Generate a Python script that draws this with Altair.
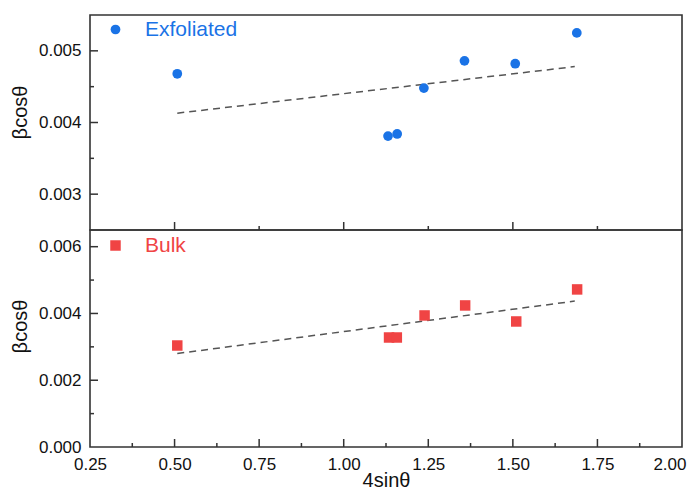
import altair as alt
import pandas as pd

# ---------------- data ----------------
x_exf = [0.508, 1.131, 1.158, 1.237, 1.357, 1.507, 1.689]
y_exf = [0.00468, 0.00381, 0.00384, 0.00448, 0.00486, 0.00482, 0.00525]
x_bulk = [0.508, 1.134, 1.157, 1.239, 1.359, 1.510, 1.690]
y_bulk = [0.00304, 0.00328, 0.00328, 0.00394, 0.00424, 0.00376, 0.00472]
fit_x_exf = [0.508, 1.683]
fit_y_exf = [0.00413, 0.00478]
fit_x_bulk = [0.508, 1.683]
fit_y_bulk = [0.00280, 0.00437]

x_labels = [0.25, 0.50, 0.75, 1.00, 1.25, 1.50, 1.75, 2.00]
x_minor = [0.375, 0.625, 0.875, 1.125, 1.375, 1.625, 1.875]
top_x_long = [0.5, 1.0, 1.5]
top_x_short = [0.75, 1.25, 1.75]
top_y_labels = [0.003, 0.004, 0.005]
top_y_minor = [0.0035, 0.0045]
bot_y_labels = [0.000, 0.002, 0.004, 0.006]
bot_y_minor = [0.001, 0.003, 0.005]

BLUE = "#1a73e6"
RED = "#f04444"
FONT = "Liberation Sans"
TXT = "#111111"
AX = "#333333"
W, H1, H2 = 592, 215, 217

xscale = alt.Scale(domain=[0.25, 2.0], nice=False, zero=False)


def xenc(show):
    if show:
        ax = alt.Axis(values=x_labels, format=".2f", title="4sinθ", ticks=False,
                      domain=False, grid=False, labelFontSize=17, labelPadding=9,
                      labelFlush=False, labelOverlap=False,
                      labelAlign={"condition": {"test": "datum.value >= 1.99", "value": "right"},
                                  "value": "center"},
                      labelOffset={"condition": {"test": "datum.value >= 1.99", "value": 4},
                                   "value": 0},
                      titleFontSize=20, titleY=23, labelFont=FONT, titleFont=FONT,
                      labelColor=TXT, titleColor=TXT, titleFontWeight="normal")
    else:
        ax = None
    return alt.X("x:Q", scale=xscale, axis=ax)


def yenc(domain, values, title_y):
    ax = alt.Axis(values=values, format=".3f", title="βcosθ", ticks=False, domain=False,
                  grid=False, labelFontSize=17, labelPadding=9, titleFontSize=20,
                  labelFlush=False, labelOverlap=False,
                  labelFont=FONT, titleFont=FONT, labelColor=TXT, titleColor=TXT,
                  titleFontWeight="normal", titleX=-60, titleY=title_y)
    return alt.Y("y:Q", scale=alt.Scale(domain=domain, nice=False, zero=False), axis=ax)


def panel(xs, ys, fx, fy, name, color, mark, size, domain, yvals, ylong, yshort,
          xlong, xshort, height, show_x, title_y, legend_y):
    X = xenc(show_x)
    Y = yenc(domain, yvals, title_y)
    pts = pd.DataFrame({"x": xs, "y": ys, "series": [name] * len(xs)})
    fit = pd.DataFrame({"x": fx, "y": fy})
    if mark == "circle":
        base = alt.Chart(pts).mark_circle(size=size, opacity=1)
        sym = "circle"
    else:
        base = alt.Chart(pts).mark_square(size=size, opacity=1)
        sym = "square"
    points = base.encode(
        x=X, y=Y,
        color=alt.Color("series:N", scale=alt.Scale(domain=[name], range=[color]),
                        legend=alt.Legend(orient="none", legendX=15, legendY=legend_y,
                                          title=None, labelFontSize=21, labelFont=FONT,
                                          labelColor=color, labelOffset=19,
                                          symbolSize=size, symbolStrokeWidth=0,
                                          symbolType=sym, padding=0)),
    )
    line = alt.Chart(fit).mark_line(color="#555555", strokeDash=[7, 5],
                                    strokeWidth=1.5).encode(x=X, y=Y)
    layers = [line, points]
    # inward ticks on the bottom edge
    for vals, ln in ((xlong, 8), (xshort, 4)):
        d = pd.DataFrame({"x": vals})
        layers.append(alt.Chart(d).mark_rule(color=AX, strokeWidth=1.5).encode(
            x=X, y=alt.value(height), y2=alt.value(height - ln)))
    # inward ticks on the left edge
    for vals, ln in ((ylong, 8), (yshort, 4)):
        d = pd.DataFrame({"y": vals})
        layers.append(alt.Chart(d).mark_rule(color=AX, strokeWidth=1.5).encode(
            y=Y, x=alt.value(0), x2=alt.value(ln)))
    return alt.layer(*layers).properties(width=W, height=height)


top = panel(x_exf, y_exf, fit_x_exf, fit_y_exf, "Exfoliated", BLUE, "circle", 95,
            [0.0025, 0.0055], top_y_labels, top_y_labels, top_y_minor,
            top_x_long, top_x_short, H1, False, 97, 4)
bottom = panel(x_bulk, y_bulk, fit_x_bulk, fit_y_bulk, "Bulk", RED, "square", 110,
               [0.0, 0.0065], bot_y_labels, [0.002, 0.004, 0.006], bot_y_minor,
               [0.5, 0.75, 1.0, 1.25, 1.5, 1.75], x_minor, H2, True, 96, 5)

chart = alt.vconcat(top, bottom, spacing=0, bounds="flush").resolve_scale(
    x="independent", y="independent", color="independent"
).resolve_legend(color="independent").properties(
    padding={"left": 1, "top": 6, "right": 0, "bottom": 0}
).configure(background="white").configure_view(stroke=AX, strokeWidth=1.6)

chart.save("out.html", embed_options={"renderer": "svg", "actions": False})
